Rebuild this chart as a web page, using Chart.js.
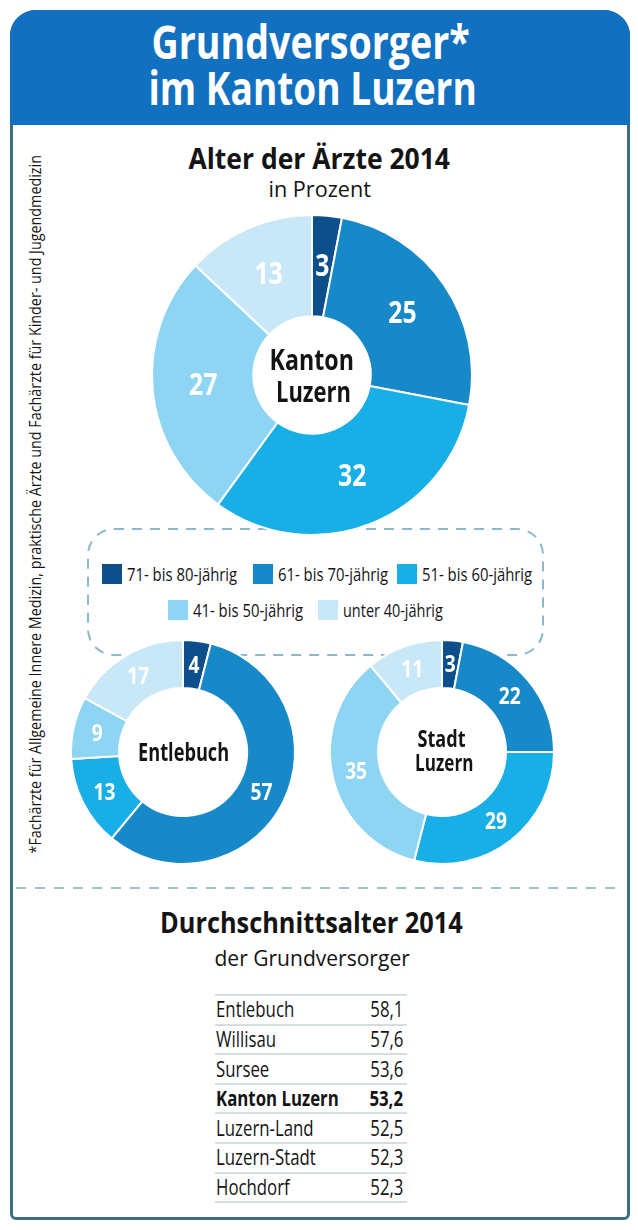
<!DOCTYPE html>
<html><head><meta charset="utf-8">
<script src="https://cdn.jsdelivr.net/npm/chart.js@4/dist/chart.umd.min.js"></script>
<style>
html,body{margin:0;padding:0;background:#fff;}
#page{position:relative;width:638px;height:1230px;overflow:hidden;font-family:"Open Sans",sans-serif;color:#141414;}
.frame{position:absolute;left:10px;top:10px;width:620px;height:1210px;box-sizing:border-box;border:3px solid #3e6e80;border-radius:26px 26px 6px 6px;}
.header{position:absolute;left:10px;top:10px;width:620px;height:115px;background:#1170bf;border-radius:26px 26px 0 0;}
.t{position:absolute;white-space:nowrap;line-height:1;z-index:3;}
canvas{position:absolute;z-index:2;}
svg.deco{position:absolute;left:0;top:0;z-index:1;}
.sq{position:absolute;width:20px;height:20px;z-index:3;}
.rowline{position:absolute;height:2px;background:#d6dde0;z-index:1;}
</style>
</head>
<body>
<div id="page">
  <div class="frame"></div>
  <div class="header"></div>
  <svg class="deco" width="638" height="1230">
    <rect x="88" y="529" width="455" height="126" rx="26" ry="26" fill="none" stroke="#8cb9ca" stroke-width="2" stroke-dasharray="10 8"/>
    <line x1="16" y1="888" x2="624" y2="888" stroke="#9cc3cf" stroke-width="2" stroke-dasharray="10 9"/>
  </svg>

  <div class="t" data-a="c" data-x="310" data-y="41" data-w="318" style="font-size:46px;font-weight:700;color:#fff">Grundversorger*</div>
  <div class="t" data-a="c" data-x="312" data-y="87" data-w="328" style="font-size:46px;font-weight:700;color:#fff">im Kanton Luzern</div>

  <div class="t" data-a="c" data-x="319" data-y="158" data-w="262" style="font-size:28px;font-weight:700;">Alter der Ärzte 2014</div>
  <div class="t" data-a="c" data-x="319" data-y="189" data-w="102" style="font-size:21px;">in Prozent</div>

  <div class="t" data-a="c" data-x="311" data-y="358" data-w="84" style="font-size:29px;font-weight:700;">Kanton</div>
  <div class="t" data-a="c" data-x="313" data-y="390" data-w="75" style="font-size:29px;font-weight:700;">Luzern</div>

  <div class="t" data-a="c" data-x="183" data-y="751" data-w="91" style="font-size:25px;font-weight:700;">Entlebuch</div>
  <div class="t" data-a="c" data-x="441" data-y="738" data-w="48" style="font-size:23px;font-weight:700;">Stadt</div>
  <div class="t" data-a="c" data-x="444" data-y="762" data-w="58" style="font-size:23px;font-weight:700;">Luzern</div>

  <div class="t" data-a="v" data-x="35" data-y="504" data-w="698" style="font-size:16.5px;">*Fachärzte für Allgemeine Innere Medizin, praktische Ärzte und Fachärzte für Kinder- und Jugendmedizin</div>

  <div class="t" data-a="c" data-x="311" data-y="922" data-w="303" style="font-size:28px;font-weight:700;">Durchschnittsalter 2014</div>
  <div class="t" data-a="c" data-x="312" data-y="957" data-w="195" style="font-size:22px;">der Grundversorger</div>

  <canvas id="cKanton" width="340" height="340" style="left:142px;top:205px"></canvas>
  <canvas id="cEntle" width="240" height="240" style="left:63px;top:632px"></canvas>
  <canvas id="cStadt" width="240" height="240" style="left:322px;top:632px"></canvas>
</div>
<script>
const ageGroups = ['71- bis 80-jährig','61- bis 70-jährig','51- bis 60-jährig','41- bis 50-jährig','unter 40-jährig'];
const ageColors = ['#0c4f8a','#1789c9','#17afe6','#8ed4f3','#c8e8f7'];
const kantonValues = [3,25,32,27,13];
const entlebuchValues = [4,57,13,9,17];
const stadtValues = [3,22,29,35,11];
const regions = ['Entlebuch','Willisau','Sursee','Kanton Luzern','Luzern-Land','Luzern-Stadt','Hochdorf'];
const avgAges = [58.1,57.6,53.6,53.2,52.5,52.3,52.3];
const highlightRegion = 'Kanton Luzern';

const page = document.getElementById('page');

// legend layout
const legendPos = [[102,574],[253,574],[397,574],[168,610],[318,610]];
const legendW = [110,110,110,110,100];
ageGroups.forEach((g,i)=>{
  const sq = document.createElement('div');
  sq.className='sq';
  sq.style.left = legendPos[i][0]+'px';
  sq.style.top = (legendPos[i][1]-10)+'px';
  sq.style.background = ageColors[i];
  page.appendChild(sq);
  const t = document.createElement('div');
  t.className='t';
  t.dataset.a='l'; t.dataset.x = legendPos[i][0]+25; t.dataset.y = legendPos[i][1]; t.dataset.w = legendW[i];
  t.style.fontSize='18.5px';
  t.textContent = g;
  page.appendChild(t);
});

// table
const tTop = 995, rowH = 29.6, tLeft = 215, tRight = 407;
function addLine(y){
  const l = document.createElement('div');
  l.className='rowline';
  l.style.left=tLeft+'px'; l.style.width=(tRight-tLeft)+'px'; l.style.top=(y-1)+'px';
  page.appendChild(l);
}
addLine(tTop);
regions.forEach((r,i)=>{
  const cy = tTop + rowH*(i+0.5);
  const bold = r===highlightRegion;
  const a = document.createElement('div');
  a.className='t'; a.dataset.a='l'; a.dataset.x=tLeft+1; a.dataset.y=cy; a.dataset.s='0.8';
  a.style.fontSize='21px'; if(bold) a.style.fontWeight='700';
  a.textContent=r; page.appendChild(a);
  const b = document.createElement('div');
  b.className='t'; b.dataset.a='r'; b.dataset.x=tRight-4; b.dataset.y=cy; b.dataset.s='0.8';
  b.style.fontSize='21px'; if(bold) b.style.fontWeight='700';
  b.textContent=avgAges[i].toFixed(1).replace('.',','); page.appendChild(b);
  addLine(tTop + rowH*(i+1));
});

function layoutTexts(){
  document.querySelectorAll('.t').forEach(el=>{
    el.style.transform='none';
    const wn = el.offsetWidth, h = el.offsetHeight;
    const x = +el.dataset.x, y = +el.dataset.y;
    const s = el.dataset.w ? (+el.dataset.w)/wn : (+(el.dataset.s||1));
    const a = el.dataset.a;
    el.style.top = (y - h/2)+'px';
    if(a==='c'){
      el.style.left=(x-wn/2)+'px'; el.style.transformOrigin='center center';
      el.style.transform='scaleX('+s+')';
    } else if(a==='l'){
      el.style.left=x+'px'; el.style.transformOrigin='left center';
      el.style.transform='scaleX('+s+')';
    } else if(a==='r'){
      el.style.left=(x-wn)+'px'; el.style.transformOrigin='right center';
      el.style.transform='scaleX('+s+')';
    } else if(a==='v'){
      el.style.left=(x-wn/2)+'px'; el.style.transformOrigin='center center';
      el.style.transform='rotate(-90deg) scaleX('+s+')';
    }
  });
}
layoutTexts();
if(document.fonts && document.fonts.ready) document.fonts.ready.then(layoutTexts);

const arcLabels = {
  id:'arcLabels',
  afterDatasetsDraw(chart, args, opts){
    const ctx = chart.ctx;
    const meta = chart.getDatasetMeta(0);
    const vals = chart.data.datasets[0].data;
    meta.data.forEach((arc,i)=>{
      const p = arc.tooltipPosition();
      ctx.save();
      ctx.translate(p.x, p.y + (opts.dy||0));
      ctx.scale(opts.sx||0.82, 1);
      ctx.font = 'bold '+opts.size+'px "Open Sans"';
      ctx.fillStyle = opts.color || '#fff';
      ctx.textAlign='center'; ctx.textBaseline='middle';
      ctx.fillText(String(vals[i]), 0, 0);
      ctx.restore();
    });
  }
};

function makeDonut(id, values, radius, cutout, size){
  return new Chart(document.getElementById(id), {
    type:'doughnut',
    data:{labels:ageGroups, datasets:[{data:values, backgroundColor:ageColors, borderColor:'#ffffff', borderWidth:2}]},
    options:{
      responsive:false, animation:false, radius:radius, cutout:cutout,
      layout:{padding:0},
      plugins:{legend:{display:false}, tooltip:{enabled:false}, arcLabels:{size:size, sx:0.8, dy:1}}
    },
    plugins:[arcLabels]
  });
}
makeDonut('cKanton', kantonValues, 160, 62, 31);
makeDonut('cEntle', entlebuchValues, 112, 68, 24);
makeDonut('cStadt', stadtValues, 112, 68, 24);
</script>
</body></html>
